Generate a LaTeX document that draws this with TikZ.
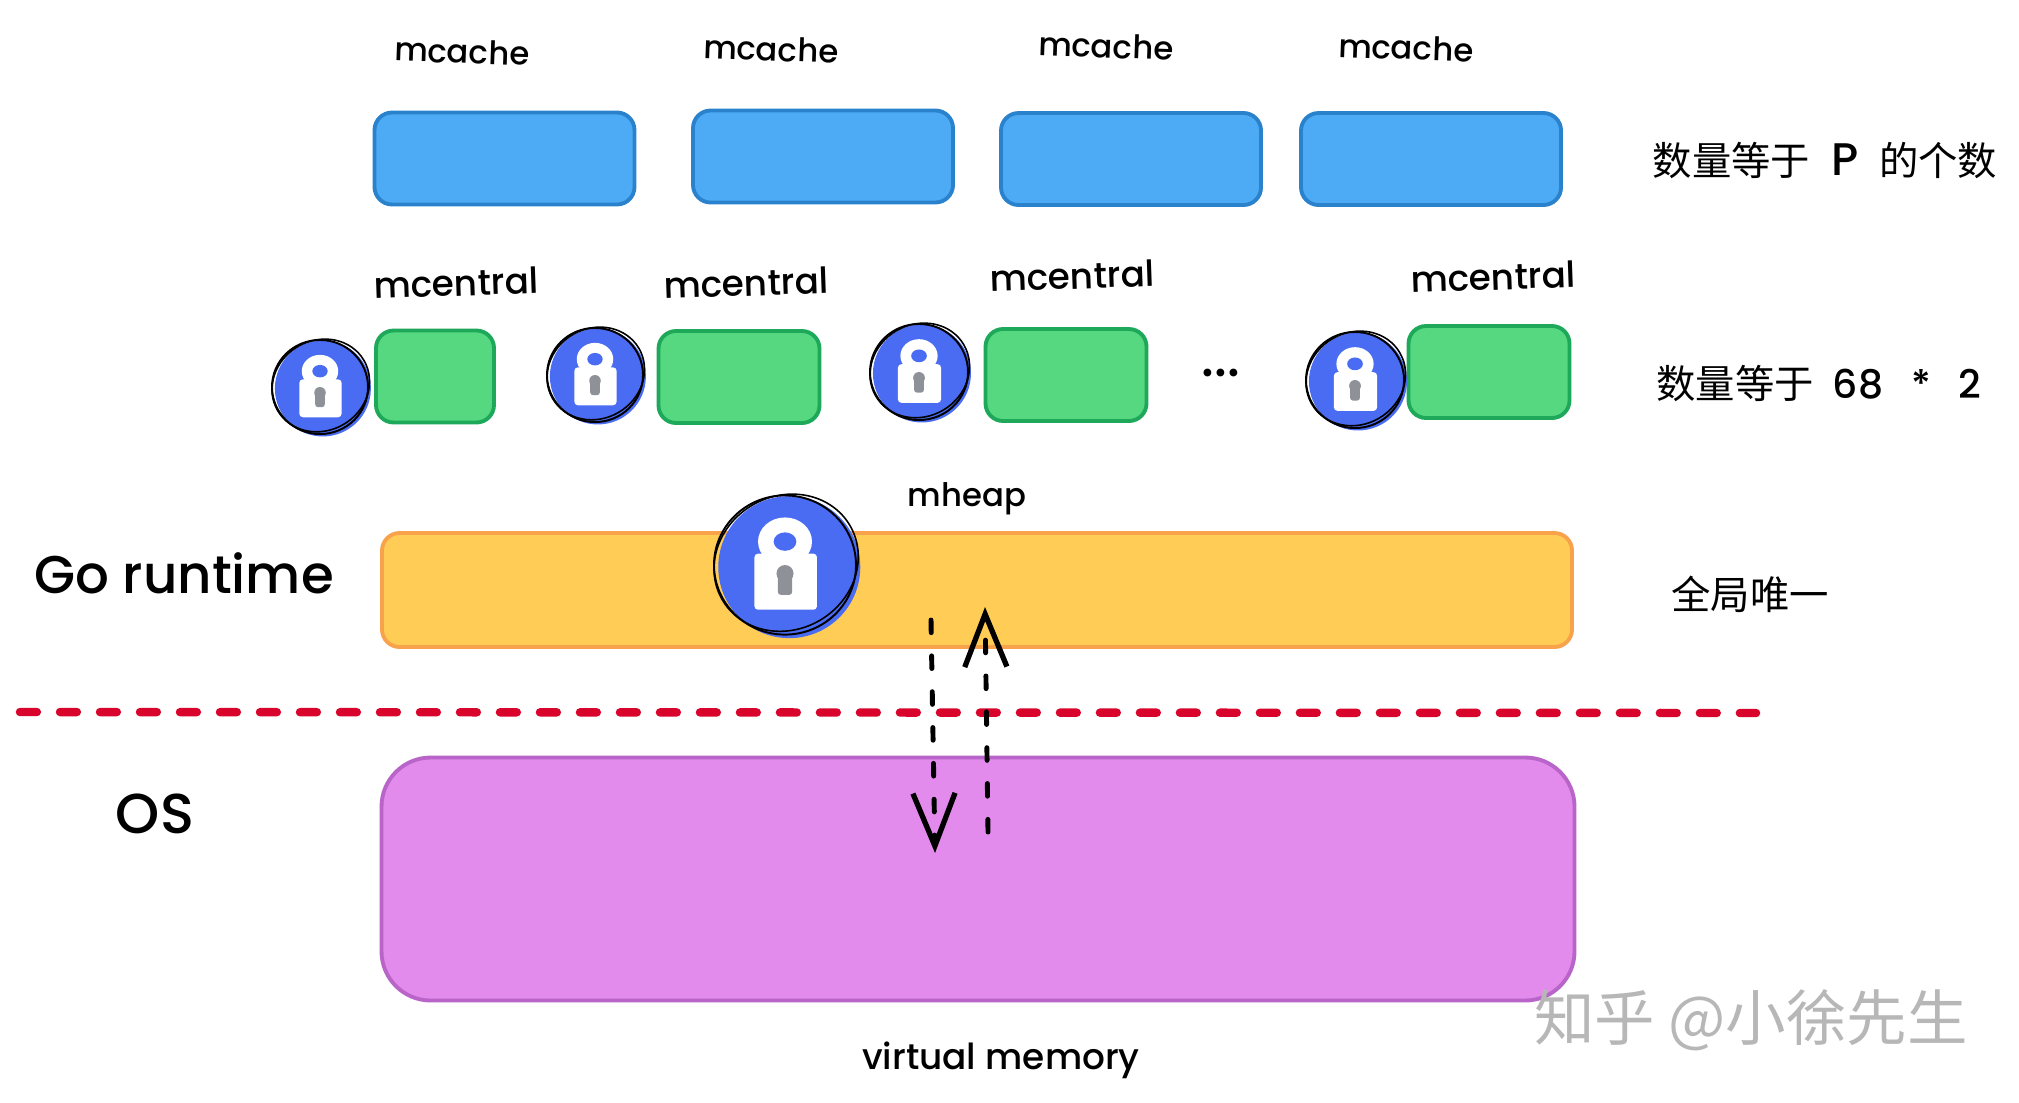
\documentclass[tikz,border=0pt]{standalone}
\usepackage{fontspec}
\setmainfont{Poppins Medium}
\newfontfamily\cjk{Noto Sans CJK SC}
\usetikzlibrary{arrows.meta}

\definecolor{cachefill}{HTML}{4DABF5}
\definecolor{cacheline}{HTML}{2B82CC}
\definecolor{centralfill}{HTML}{55D880}
\definecolor{centralline}{HTML}{1DA85A}
\definecolor{heapfill}{HTML}{FFCC55}
\definecolor{heapline}{HTML}{F8A24C}
\definecolor{osfill}{HTML}{E28BEC}
\definecolor{osline}{HTML}{B964C8}
\definecolor{lockblue}{HTML}{4A6CF2}
\definecolor{keygray}{HTML}{8E9298}
\definecolor{splitred}{HTML}{D9042B}
\definecolor{markgray}{HTML}{B7B7B7}

\tikzset{
  cachebox/.style={draw=cacheline,fill=cachefill,line width=1.1pt,rounded corners=5pt,inner sep=0pt,minimum width=2.6cm,minimum height=.92cm},
  centralbox/.style={draw=centralline,fill=centralfill,line width=1.1pt,rounded corners=5pt,inner sep=0pt,minimum height=.92cm},
  heapbox/.style={draw=heapline,fill=heapfill,line width=1.1pt,rounded corners=5pt,inner sep=0pt},
  osbox/.style={draw=osline,fill=osfill,line width=1.1pt,rounded corners=14pt,inner sep=0pt},
  hand/.style={inner sep=0pt,font=\fontsize{9.2}{11}\selectfont},
  widehand/.style={inner sep=0pt,font=\fontsize{10.2}{12}\selectfont},
  bighand/.style={inner sep=0pt,font=\fontsize{15.1}{17}\selectfont},
  note/.style={inner sep=0pt,font=\fontsize{11.2}{13}\selectfont},
  flow/.style={line width=1.4pt,line cap=round,dash pattern=on 3.6pt off 6.6pt,-{Straight Barb[length=15pt,width=12pt,line width=1.5pt]}},
  lockicon/.pic={
    \fill[lockblue] (.06,.03) circle (1);
    \fill[white] (0,-.33) ellipse (.38 and .34);
    \fill[lockblue] (0,-.33) ellipse (.16 and .13);
    \fill[white,rounded corners=1pt] (-.43,-.16) rectangle (.45,.63);
    \fill[keygray] (0,.12) circle (.12);
    \fill[keygray,rounded corners=.8pt] (-.1,.12) rectangle (.1,.42);
    \draw[line width=.55pt] (0,0) ellipse (1 and .98);
    \draw[line width=.45pt,rotate=30] (.03,-.02) ellipse (1.04 and .94);
  }
}

\begin{document}
\begin{tikzpicture}[x=1cm,y=-1cm]
  \useasboundingbox (0,0) rectangle (20.19,11.02);

  % mcache row
  \node[cachebox] (cacheA) at (5.045,1.585) {};
  \node[cachebox] (cacheB) at (8.23,1.565) {};
  \node[cachebox] (cacheC) at (11.31,1.59) {};
  \node[cachebox] (cacheD) at (14.31,1.59) {};
  \node[hand,rotate=-2] (cachelabelA) at (4.62,.515) {mcache};
  \node[hand,rotate=-2] (cachelabelB) at (7.71,.49) {mcache};
  \node[hand,rotate=-2] (cachelabelC) at (11.06,.46) {mcache};
  \node[hand,rotate=-2] (cachelabelD) at (14.06,.476) {mcache};

  % mcentral row
  \node[centralbox,minimum width=1.18cm] (centralA) at (4.35,3.765) {};
  \node[centralbox,minimum width=1.61cm] (centralB) at (7.39,3.77) {};
  \node[centralbox,minimum width=1.61cm] (centralC) at (10.66,3.75) {};
  \node[centralbox,minimum width=1.61cm] (centralD) at (14.89,3.72) {};
  \node[widehand,rotate=2] (centrallabelA) at (4.56,2.83) {mcentral};
  \node[widehand,rotate=2] (centrallabelB) at (7.46,2.83) {mcentral};
  \node[widehand,rotate=2] (centrallabelC) at (10.72,2.76) {mcentral};
  \node[widehand,rotate=2] (centrallabelD) at (14.93,2.77) {mcentral};
  \node[bighand] (dots) at (12.21,3.73) {...};
  \pic[scale=.48] (lockA) at (3.2,3.87) {lockicon};
  \pic[scale=.48] (lockB) at (5.95,3.75) {lockicon};
  \pic[scale=.49] (lockC) at (9.19,3.72) {lockicon};
  \pic[scale=.49] (lockD) at (13.55,3.8) {lockicon};

  % mheap
  \node[heapbox,minimum width=11.9cm,minimum height=1.14cm] (heap) at (9.77,5.9) {};
  \pic[scale=.71] (lockE) at (7.85,5.65) {lockicon};
  \node[hand] (heaplabel) at (9.67,4.99) {mheap};

  % os
  \node[osbox,minimum width=11.93cm,minimum height=2.43cm] (os) at (9.78,8.79) {};
  \node[widehand] (oslabel) at (10.01,10.6) {virtual memory};

  \coordinate (splitL) at (.2,7.12);
  \coordinate (splitR) at (17.56,7.13);
  \draw[splitred,line width=2.4pt,line cap=round,dash pattern=on 4.8pt off 6.58pt] (splitL) -- (splitR);

  \coordinate (downS) at (9.31,6.2);
  \coordinate (downE) at (9.35,8.53);
  \coordinate (upS) at (9.88,8.32);
  \coordinate (upE) at (9.85,6.07);
  \draw[flow] (downS) -- (downE);
  \draw[flow] (upS) -- (upE);

  \node[bighand] (runtime) at (1.84,5.73) {Go runtime};
  \node[bighand,font=\fontsize{16}{18}\selectfont] (system) at (1.55,8.14) {OS};

  % right side notes
  \node[note] (noteA) at (18.25,1.6) {{\cjk 数量等于}\hspace{3pt} {\fontsize{13}{13}\selectfont P} \hspace{3pt}{\cjk 的个数}};
  \node[note] (noteB) at (18.19,3.83) {{\cjk 数量等于}\hspace{2.5pt} 68\hspace{5pt} *\hspace{5pt} 2};
  \node[note] (noteC) at (17.5,5.94) {\cjk 全局唯一};
  \node[inner sep=0pt,text=markgray,font=\fontsize{17.2}{20}\selectfont] (mark) at (17.51,10.2) {\cjk 知乎 @小徐先生};
\end{tikzpicture}
\end{document}
